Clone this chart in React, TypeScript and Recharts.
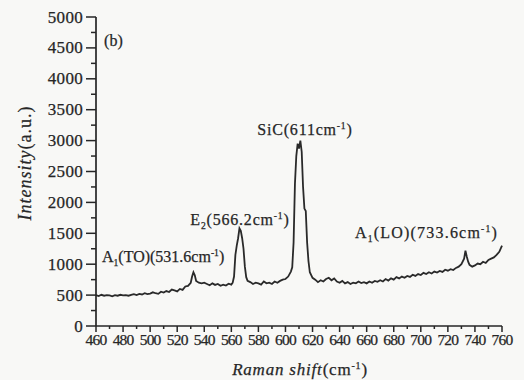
import React from 'react';
import { LineChart, Line, XAxis, YAxis, ReferenceDot } from 'recharts';

const W = 524;
const H = 380;
const INK = '#262626';
const SERIF = '"Liberation Serif", "Times New Roman", serif';

const shifts = [
  460, 462, 464, 466, 468, 470, 472, 474, 476, 478, 480, 482, 484, 486, 488, 490, 492, 494, 496, 498,
  500, 502, 504, 506, 508, 510, 512, 514, 516, 518, 520, 522, 524, 526, 528, 530, 531, 532, 533, 534,
  536, 538, 540, 542, 544, 546, 548, 550, 552, 554, 556, 558, 560, 561, 562, 563, 564, 565, 566, 567,
  568, 569, 570, 571, 572, 574, 576, 578, 580, 582, 584, 586, 588, 590, 592, 594, 596, 598, 600, 602,
  604, 605, 606, 607, 608, 609, 610, 611, 612, 613, 614, 615, 616, 617, 618, 620, 622, 624, 626, 628,
  630, 632, 634, 636, 638, 640, 642, 644, 646, 648, 650, 652, 654, 656, 658, 660, 662, 664, 666, 668,
  670, 672, 674, 676, 678, 680, 682, 684, 686, 688, 690, 692, 694, 696, 698, 700, 702, 704, 706, 708,
  710, 712, 714, 716, 718, 720, 722, 724, 726, 728, 730, 732, 733, 734, 735, 736, 738, 740, 742, 744,
  746, 748, 750, 752, 754, 756, 758, 760,
];

const intensity = [
  500, 485, 505, 490, 500, 495, 480, 500, 490, 505, 495, 500, 490, 505, 515, 500, 520, 510, 530, 515,
  525, 545, 530, 520, 555, 540, 565, 550, 590, 575, 560, 600, 585, 640, 650, 700, 800, 870, 820, 730,
  700, 690, 700, 680, 660, 690, 665, 680, 650, 670, 655, 685, 670, 700, 800, 1150, 1300, 1420, 1580, 1540,
  1420, 1250, 960, 790, 730, 710, 680, 700, 690, 670, 720, 690, 700, 680, 720, 700, 730, 750, 760, 800,
  880, 950, 1350, 2300, 2750, 2950, 2870, 3000, 2820, 2250, 1900, 1860, 1350, 1050, 870, 780, 750, 710, 740, 720,
  760, 780, 740, 770, 720, 700, 730, 690, 710, 680, 700, 690, 720, 695, 710, 690, 720, 700, 730, 715,
  740, 720, 760, 735, 770, 750, 790, 770, 800, 780, 810, 795, 830, 810, 840, 825, 860, 840, 870, 850,
  880, 865, 890, 875, 910, 895, 920, 905, 940, 960, 1000, 1090, 1220, 1120, 1040, 990, 960, 980, 1010, 1000,
  1040, 1020, 1070, 1090, 1110, 1150, 1200, 1300,
];

const xTicks = [
  460, 470, 480, 490, 500, 510, 520, 530, 540, 550, 560, 570, 580, 590, 600, 610, 620, 630, 640, 650,
  660, 670, 680, 690, 700, 710, 720, 730, 740, 750, 760,
];
const yTicks = [
  0, 250, 500, 750, 1000, 1250, 1500, 1750, 2000, 2250, 2500, 2750, 3000, 3250, 3500, 3750, 4000,
  4250, 4500, 4750, 5000,
];

type Seg = { t: string; sub?: boolean; sup?: boolean };
type Note = { x: number; y: number; parts: Seg[]; size: number; spacing: number; anchor: string };

const notes: Note[] = [
  { x: 466, y: 4530, parts: [{ t: '(b)' }], size: 16, spacing: 0, anchor: 'start' },
  {
    x: 464.4, y: 1036, size: 16, spacing: 0, anchor: 'start',
    parts: [{ t: 'A' }, { t: '1', sub: true }, { t: '(TO)(531.6cm' }, { t: '-1', sup: true }, { t: ')' }],
  },
  {
    x: 603, y: 1640, size: 16, spacing: 0.8, anchor: 'end',
    parts: [{ t: 'E' }, { t: '2', sub: true }, { t: '(566.2cm' }, { t: '-1', sup: true }, { t: ')' }],
  },
  {
    x: 614.4, y: 3090, size: 16, spacing: 0.8, anchor: 'middle',
    parts: [{ t: 'SiC(611cm' }, { t: '-1', sup: true }, { t: ')' }],
  },
  {
    x: 651.4, y: 1424, size: 16, spacing: 1.2, anchor: 'start',
    parts: [{ t: 'A' }, { t: '1', sub: true }, { t: '(LO)(733.6cm' }, { t: '-1', sup: true }, { t: ')' }],
  },
];

const data = shifts.map((s, i) => ({ shift: s, intensity: intensity[i] }));

const renderParts = (parts: Seg[], size: number) => {
  const out: React.ReactNode[] = [];
  let shift = 0;
  parts.forEach((p, i) => {
    let target = 0;
    if (p.sub) target = 4;
    if (p.sup) target = -6;
    const dy = target - shift;
    shift = target;
    out.push(
      <tspan key={i} dy={dy} fontSize={p.sub || p.sup ? size * 0.6 : size}>
        {p.t}
      </tspan>
    );
  });
  return out;
};

const makeNoteLabel = (n: Note) => (props: any) => {
  const vb = props.viewBox || {};
  const x = vb.x + (vb.width || 0) / 2;
  const y = vb.y + (vb.height || 0) / 2;
  return (
    <text
      x={x}
      y={y}
      textAnchor={n.anchor as any}
      fontFamily={SERIF}
      fontSize={n.size}
      fill={INK}
      stroke={INK}
      strokeWidth={0.25}
      letterSpacing={n.spacing}
    >
      {renderParts(n.parts, n.size)}
    </text>
  );
};

const YTick = (props: any) => {
  const { x, y, payload } = props;
  const v = payload.value;
  const major = v % 500 === 0;
  return (
    <g>
      <line x1={x - (major ? 10 : 5)} x2={x} y1={y} y2={y} stroke={INK} strokeWidth={1.5} />
      {major && (
        <text
          x={x - 13}
          y={y}
          dy={5.5}
          textAnchor="end"
          fontSize={17}
          letterSpacing={0.3}
          fill={INK}
          stroke={INK}
          strokeWidth={0.25}
          fontFamily={SERIF}
        >
          {v}
        </text>
      )}
    </g>
  );
};

const XTick = (props: any) => {
  const { x, y, payload } = props;
  const v = payload.value;
  const major = (v - 460) % 20 === 0;
  return (
    <g>
      <line x1={x} x2={x} y1={y} y2={y + (major ? 6 : 3)} stroke={INK} strokeWidth={1.5} />
      {major && (
        <text
          x={x}
          y={y + 19}
          textAnchor="middle"
          fontSize={15.5}
          letterSpacing={-0.8}
          fill={INK}
          stroke={INK}
          strokeWidth={0.25}
          fontFamily={SERIF}
        >
          {v}
        </text>
      )}
    </g>
  );
};

const XTitle = () => (
  <text
    x={300}
    y={375}
    textAnchor="middle"
    fontFamily={SERIF}
    fontSize={17}
    fill={INK}
    stroke={INK}
    strokeWidth={0.25}
    letterSpacing={0.8}
  >
    <tspan fontStyle="italic">Raman shift</tspan>
    <tspan>(cm</tspan>
    <tspan fontSize={10} dy={-6}>-1</tspan>
    <tspan dy={6}>)</tspan>
  </text>
);

const YTitle = () => (
  <text
    x={25}
    y={163}
    transform="rotate(-90, 25, 163)"
    textAnchor="middle"
    dominantBaseline="central"
    fontFamily={SERIF}
    fontSize={18}
    fill={INK}
    stroke={INK}
    strokeWidth={0.25}
    letterSpacing={1}
  >
    <tspan fontStyle="italic">Intensity</tspan>
    <tspan>(a.u.)</tspan>
  </text>
);

export default function App() {
  return (
    <div style={{ position: 'absolute', left: 0, top: 0, width: W, height: H, background: '#f8f8f6' }}>
      <LineChart width={W} height={H} data={data} margin={{ top: 17, right: 22, bottom: 24, left: 0 }}>
        <XAxis
          dataKey="shift"
          type="number"
          domain={[460, 760]}
          ticks={xTicks}
          interval={0}
          tickSize={0}
          tickMargin={0}
          tickLine={false}
          tick={<XTick />}
          height={30}
          axisLine={{ stroke: INK, strokeWidth: 1.7 }}
          label={{ content: () => <XTitle /> }}
        />
        <YAxis
          type="number"
          domain={[0, 5000]}
          ticks={yTicks}
          interval={0}
          tickSize={0}
          tickMargin={0}
          tickLine={false}
          tick={<YTick />}
          width={96}
          axisLine={{ stroke: INK, strokeWidth: 1.7 }}
          label={{ content: () => <YTitle /> }}
        />
        <Line
          type="linear"
          dataKey="intensity"
          stroke="#2a2a2a"
          strokeWidth={1.8}
          dot={false}
          isAnimationActive={false}
        />
        {notes.map((n, i) => (
          <ReferenceDot
            key={i}
            x={n.x}
            y={n.y}
            r={0}
            fill="none"
            stroke="none"
            ifOverflow="visible"
            label={{ content: makeNoteLabel(n) }}
          />
        ))}
      </LineChart>
    </div>
  );
}
